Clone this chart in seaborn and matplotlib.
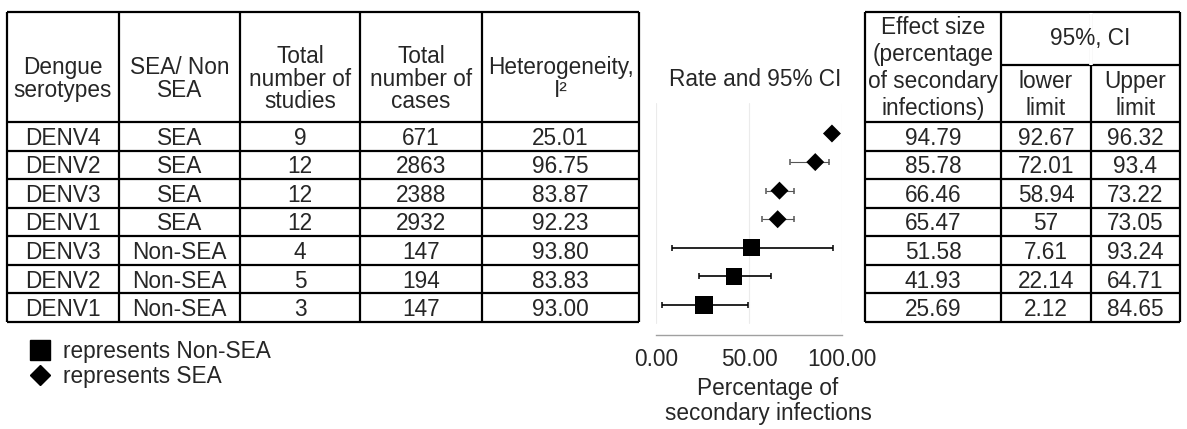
import matplotlib
matplotlib.use('Agg')
import matplotlib.pyplot as plt
from matplotlib.lines import Line2D
import seaborn as sns

serotypes = ['DENV4', 'DENV2', 'DENV3', 'DENV1', 'DENV3', 'DENV2', 'DENV1']
regions = ['SEA', 'SEA', 'SEA', 'SEA', 'Non-SEA', 'Non-SEA', 'Non-SEA']
n_studies = [9, 12, 12, 12, 4, 5, 3]
n_cases = [671, 2863, 2388, 2932, 147, 194, 147]
i2 = [25.01, 96.75, 83.87, 92.23, 93.80, 83.83, 93.00]
effect = [94.79, 85.78, 66.46, 65.47, 51.58, 41.93, 25.69]
ci_lower = [92.67, 72.01, 58.94, 57, 7.61, 22.14, 2.12]
ci_upper = [96.32, 93.4, 73.22, 73.05, 93.24, 64.71, 84.65]
# whisker ends as they are drawn in the forest plot
whisker_lo = [92.67, 72.1, 59.2, 56.9, 8.3, 22.8, 2.9]
whisker_hi = [96.32, 93.4, 74.1, 74.1, 95.2, 61.9, 49.5]
marker_px = [18, 18, 18, 18, 17, 16.5, 18]

left_headers = ['Dengue\nserotypes', 'SEA/ Non\nSEA', 'Total\nnumber of\nstudies',
                'Total\nnumber of\ncases', 'Heterogeneity,\nI²']
xticks = [0, 50, 100]
xtick_labels = ['0.00', '50.00', '100.00']

sns.set_style('white')
plt.rcParams['font.family'] = ['Liberation Sans', 'DejaVu Sans']
FS = 16.3
W, H = 1187, 429
fig = plt.figure(figsize=(W / 100, H / 100), dpi=100)

# background axes in pixel coordinates for the two tables
bg = fig.add_axes([0, 0, 1, 1])
bg.set_xlim(0, W)
bg.set_ylim(H, 0)
bg.axis('off')

lw = 1.6
top, head_bot, bot = 12, 122, 322
row_h = (bot - head_bot) / len(serotypes)
left_cols = [7, 119, 240, 360, 482, 639]
right_cols = [865, 1001, 1091, 1180]

for cols in (left_cols, right_cols):
    bg.vlines(cols, top, bot, color='black', lw=lw)
    for k in range(len(serotypes) + 1):
        bg.hlines(head_bot + k * row_h, cols[0], cols[-1], color='black', lw=lw)
    bg.hlines(top, cols[0], cols[-1], color='black', lw=lw)
bg.hlines(65, right_cols[1], right_cols[-1], color='black', lw=lw)
# the CI sub-column divider starts below the "95%, CI" cell
bg.vlines(right_cols[2], top + 1, 65, color='white', lw=lw + 1)

for j, h in enumerate(left_headers):
    cx = (left_cols[j] + left_cols[j + 1]) / 2
    bg.text(cx, 79, h, ha='center', va='center', fontsize=FS, linespacing=0.97)

bg.text((right_cols[0] + right_cols[1]) / 2, 68, 'Effect size\n(percentage\nof secondary\ninfections)',
        ha='center', va='center', fontsize=FS, linespacing=1.22)
bg.text((right_cols[1] + right_cols[3]) / 2, 38, '95%, CI', ha='center', va='center', fontsize=FS)
bg.text((right_cols[1] + right_cols[2]) / 2, 95, 'lower\nlimit', ha='center', va='center',
        fontsize=FS, linespacing=1.2)
bg.text((right_cols[2] + right_cols[3]) / 2, 95, 'Upper\nlimit', ha='center', va='center',
        fontsize=FS, linespacing=1.2)

for i in range(len(serotypes)):
    y = head_bot + (i + 0.5) * row_h + 2
    left_vals = [serotypes[i], regions[i], str(n_studies[i]), str(n_cases[i]), '%.2f' % i2[i]]
    for j, v in enumerate(left_vals):
        bg.text((left_cols[j] + left_cols[j + 1]) / 2, y, v, ha='center', va='center', fontsize=FS)
    right_vals = ['%.2f' % effect[i], '%g' % ci_lower[i], '%g' % ci_upper[i]]
    for j, v in enumerate(right_vals):
        bg.text((right_cols[j] + right_cols[j + 1]) / 2, y, v, ha='center', va='center', fontsize=FS)

# forest plot
x0, x1 = 656.4, 841.6
ax_top, ax_bot = 103, 335
ax = fig.add_axes([x0 / W, (H - ax_bot) / H, (x1 - x0) / W, (ax_bot - ax_top) / H])
ax.patch.set_alpha(0)
rows = list(range(len(serotypes)))
for gx in xticks:
    ax.axvline(gx, ymin=(ax_bot - 323) / (ax_bot - ax_top), color='#ebebeb', lw=0.8, zorder=0)
for i in rows:
    thin = regions[i] == 'SEA'
    ax.errorbar(x=[effect[i]], y=[i],
                xerr=[[effect[i] - whisker_lo[i]], [whisker_hi[i] - effect[i]]],
                fmt='none', ecolor='#555555' if thin else 'black',
                elinewidth=0.8 if thin else 1.2, capsize=2.5, capthick=1.1, zorder=2)
sizes = []
for r, px in zip(regions, marker_px):
    side = px * 0.72 if r == 'Non-SEA' else px * 0.72 / 1.414
    sizes.append(side ** 2)
sns.scatterplot(x=effect, y=rows, style=regions, markers={'SEA': 'D', 'Non-SEA': 's'},
                s=sizes, color='black', linewidth=0, legend=False, ax=ax, zorder=3)
first = 133.5
ax.set_ylim((ax_bot - first) / row_h, -(first - ax_top) / row_h)
ax.set_xlim(0, 100)
ax.set_yticks([])
ax.set_xticks(xticks)
ax.set_xticklabels(xtick_labels, fontsize=FS)
ax.tick_params(axis='x', length=0, pad=9)
ax.set_xlabel('')
ax.set_ylabel('')
for side in ['top', 'left', 'right']:
    ax.spines[side].set_visible(False)
ax.spines['bottom'].set_color('#a0a0a0')
ax.spines['bottom'].set_linewidth(1.0)

bg.text(755, 80, 'Rate and 95% CI', ha='center', va='center', fontsize=FS)
bg.text(768, 401, 'Percentage of\nsecondary infections', ha='center', va='center',
        fontsize=FS, linespacing=1.1)

handles = [Line2D([], [], marker='s', ls='none', color='black', markersize=20 * 0.72),
           Line2D([], [], marker='D', ls='none', color='black', markersize=19 * 0.72 / 1.414)]
fig.legend(handles, ['represents Non-SEA', 'represents SEA'], loc='upper left',
           bbox_to_anchor=(24 / W, 1 - 340 / H), frameon=False, fontsize=FS,
           handlelength=1.4, handletextpad=0.33, borderpad=0, borderaxespad=0,
           labelspacing=0.1)

fig.savefig('out.png', dpi=100)
